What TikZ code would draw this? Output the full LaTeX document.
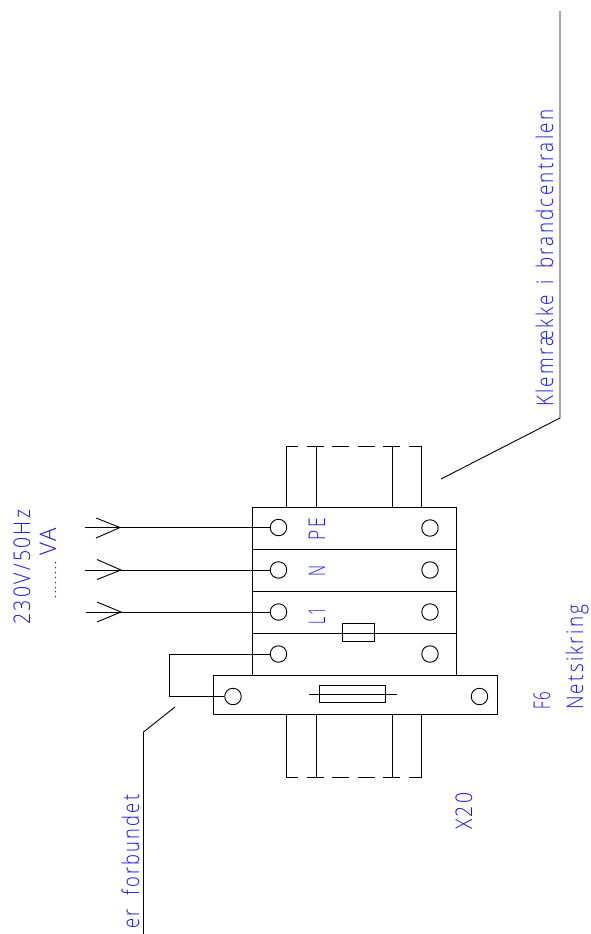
\documentclass[tikz,border=0pt]{standalone}
\usepackage{fontspec}
\setmainfont{Open Sans Light}
\usepackage{graphicx}
\definecolor{lbl}{RGB}{20,20,255}
\newcommand\fitw[2]{\resizebox{#1pt}{\height}{#2}}
\tikzset{
  wire/.style={draw=black,line width=0.9pt},
  term/.style={circle,draw=black,line width=0.9pt,minimum size=16.5pt,inner sep=0pt,fill=white},
  boxed/.style={draw=black,line width=0.9pt,inner sep=0pt},
  dashedwire/.style={wire,dash pattern=on 17pt off 8.5pt,dash phase=5pt},
  txt/.style={rotate=90,anchor=base west,inner sep=0pt,text=lbl,font=\fontsize{23}{23}\selectfont\addfontfeatures{LetterSpace=12}}
}
\begin{document}
\begin{tikzpicture}[x=1pt,y=-1pt]
\useasboundingbox (0,0) rectangle (591,934);
% module boxes
\draw[wire] (252,507) rectangle (456.5,675);
\draw[wire] (252,549) -- (456.5,549);
\draw[wire] (252,591) -- (456.5,591);
\draw[wire] (252,633) -- (456.5,633);
\node[boxed,minimum width=284pt,minimum height=39pt,fill=white] (base) at (355,694.5) {};
% stubs
\foreach \x in {286,316,392,421.5}{
  \draw[wire] (\x,507) -- (\x,446);
  \draw[wire] (\x,715) -- (\x,777);
}
\draw[dashedwire] (286,446) -- (421.5,446);
\draw[dashedwire] (286,777) -- (421.5,777);
% terminals
\node[term] (a1) at (278.5,527.5) {};
\node[term] (a2) at (278.5,570) {};
\node[term] (a3) at (278.5,612) {};
\node[term] (a4) at (278.5,654) {};
\node[term] (b1) at (430,528) {};
\node[term] (b2) at (430,570) {};
\node[term] (b3) at (430,612) {};
\node[term] (b4) at (430,654) {};
\node[term] (c1) at (233,696.5) {};
\node[term] (c2) at (479.5,696.5) {};
% fuses
\node[boxed,minimum width=32pt,minimum height=18.5pt,fill=white] (f1) at (358,632.5) {};
\draw[wire] (252,633) -- (456.5,633);
\node[boxed,minimum width=66pt,minimum height=17pt] (f2) at (352,693.5) {};
\coordinate (f2l) at (309,694);
\coordinate (f2r) at (397,694);
\draw[wire] (f2l) -- (f2r);
% incoming wires
\coordinate (w1) at (85,527.5);
\coordinate (w2) at (85,570);
\coordinate (w3) at (86,612);
\draw[wire] (w1) -- (a1.west);
\draw[wire] (w2) -- (a2.west);
\draw[wire] (w3) -- (a3.west);
\draw[wire] (96,518) -- (120,527.5) -- (96,538);
\draw[wire] (97,559.5) -- (121,570) -- (97,579.5);
\draw[wire] (97,602) -- (121,612) -- (97,622);
% loop
\coordinate (l1) at (169,654);
\coordinate (l2) at (169,696.5);
\draw[wire] (a4.west) -- (l1) -- (l2) -- (c1.west);
% leaders
\coordinate (k1) at (441,479);
\coordinate (k2) at (560,418);
\coordinate (k3) at (560,11);
\draw[wire] (k1) -- (k2) -- (k3);
\coordinate (m1) at (175,707);
\coordinate (m2) at (143.5,732);
\coordinate (m3) at (143.5,934);
\draw[wire] (m1) -- (m2) -- (m3);
% labels
\node[txt] (t1) at (30,625) {\fitw{115}{230V/50Hz}};
\node[txt,font=\fontsize{13}{13}\selectfont] (t2a) at (56,600) {\fitw{39}{........}};
\node[txt] (t2) at (56,556) {\fitw{28}{VA}};
\node[txt] (t3) at (325,540.5) {\fitw{22}{PE}};
\node[txt] (t4) at (325,577) {\fitw{11}{N}};
\node[txt] (t5) at (325,624.5) {\fitw{17}{L1}};
\node[txt] (t6) at (472,830) {\fitw{37}{X20}};
\node[txt] (t7) at (550,710) {\fitw{18}{F6}};
\node[txt] (t8) at (583,710) {\fitw{105}{Netsikring}};
\node[txt] (t9) at (553,407) {\fitw{297}{Klemrække\hspace{5pt} i\hspace{5pt} brandcentralen}};
\node[txt] (t10) at (139,929) {\fitw{134}{er\hspace{9pt} forbundet}};
\end{tikzpicture}
\end{document}
